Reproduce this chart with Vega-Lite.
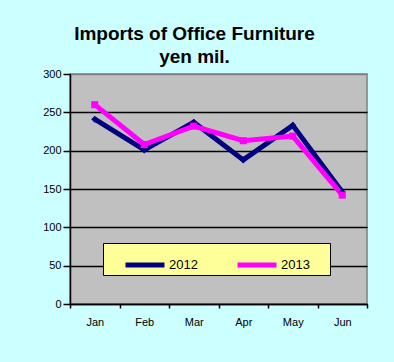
{
  "$schema": "https://vega.github.io/schema/vega-lite/v6.json",
  "width": 297,
  "height": 230,
  "autosize": {"type": "none"},
  "padding": {"left": 70, "top": 74, "right": 27, "bottom": 58},
  "background": "#CCFFFF",
  "title": {
    "text": ["Imports of Office Furniture", "yen mil."],
    "font": "Liberation Sans",
    "fontSize": 19,
    "fontWeight": "bold",
    "color": "black",
    "anchor": "middle",
    "dx": -24,
    "lineHeight": 23,
    "offset": 1
  },
  "data": {
    "values": [
      {"month": "Jan", "year": "2012", "value": 241},
      {"month": "Feb", "year": "2012", "value": 201},
      {"month": "Mar", "year": "2012", "value": 237},
      {"month": "Apr", "year": "2012", "value": 188},
      {"month": "May", "year": "2012", "value": 233},
      {"month": "Jun", "year": "2012", "value": 146},
      {"month": "Jan", "year": "2013", "value": 260},
      {"month": "Feb", "year": "2013", "value": 208},
      {"month": "Mar", "year": "2013", "value": 232},
      {"month": "Apr", "year": "2013", "value": 213},
      {"month": "May", "year": "2013", "value": 219},
      {"month": "Jun", "year": "2013", "value": 142}
    ]
  },
  "encoding": {
    "x": {
      "field": "month",
      "type": "nominal",
      "sort": ["Jan", "Feb", "Mar", "Apr", "May", "Jun"],
      "scale": {"type": "band", "paddingInner": 0, "paddingOuter": 0},
      "axis": {
        "title": null,
        "labelAngle": 0,
        "tickBand": "extent",
        "domainColor": "black",
        "domainWidth": 1.5,
        "tickColor": "black",
        "tickWidth": 1.5,
        "tickSize": 4,
        "labelFont": "Liberation Sans",
        "labelFontSize": 11,
        "labelColor": "black",
        "labelPadding": 8,
        "grid": false
      }
    },
    "y": {
      "field": "value",
      "type": "quantitative",
      "scale": {"domain": [0, 300], "nice": false},
      "axis": {
        "title": null,
        "values": [0, 50, 100, 150, 200, 250, 300],
        "domainColor": "black",
        "domainWidth": 1.5,
        "tickColor": "black",
        "tickWidth": 1.5,
        "tickSize": 7,
        "labelFont": "Liberation Sans",
        "labelFontSize": 11,
        "labelColor": "black",
        "labelPadding": 2,
        "grid": true,
        "gridColor": {"condition": {"test": "datum.value === 300", "value": "#808080"}, "value": "black"},
        "gridWidth": 1.5,
        "gridOpacity": 1
      }
    }
  },
  "layer": [
    {
      "mark": {"type": "line", "strokeWidth": 5},
      "encoding": {
        "color": {
          "field": "year",
          "type": "nominal",
          "scale": {"domain": ["2012", "2013"], "range": ["#000080", "#FF00FF"]},
          "legend": {
            "title": "\u00a0",
            "titleOrient": "right",
            "titlePadding": 20,
            "titleFontSize": 13,
            "titleFont": "Liberation Sans",
            "orient": "none",
            "legendX": 33,
            "legendY": 169,
            "direction": "horizontal",
            "fillColor": "#FFFF99",
            "strokeColor": "black",
            "padding": 0,
            "symbolType": "stroke",
            "symbolSize": 1521,
            "symbolStrokeWidth": 5,
            "symbolOffset": 20,
            "labelFont": "Liberation Sans",
            "labelFontSize": 13,
            "labelColor": "black",
            "labelOffset": 2,
            "columnPadding": 17
          }
        }
      }
    },
    {
      "transform": [{"filter": "datum.year === '2012'"}],
      "mark": {"type": "point", "filled": true, "size": 50, "opacity": 1, "shape": "diamond", "color": "#000080"}
    },
    {
      "transform": [{"filter": "datum.year === '2013'"}],
      "mark": {"type": "point", "filled": true, "size": 50, "opacity": 1, "shape": "square", "color": "#FF00FF"}
    }
  ],
  "config": {
    "view": {"fill": "#C0C0C0", "stroke": "#808080", "strokeWidth": 1.5}
  }
}
